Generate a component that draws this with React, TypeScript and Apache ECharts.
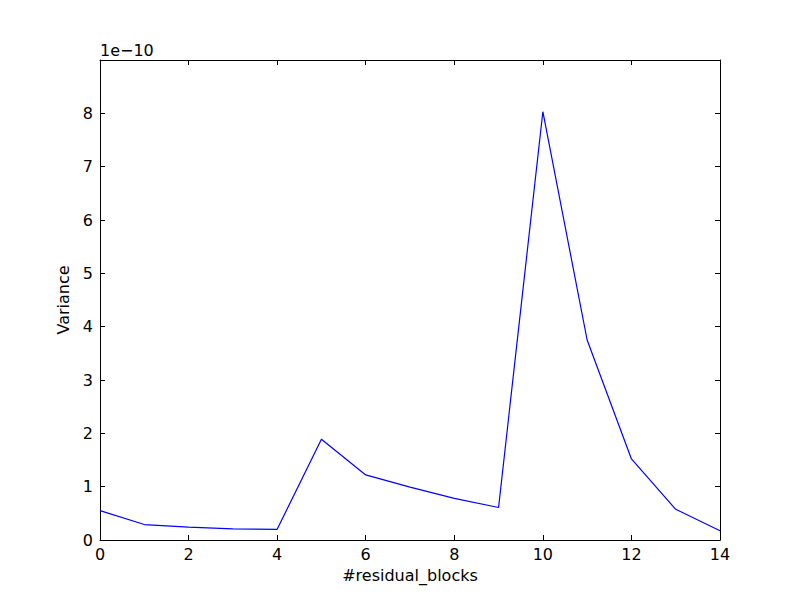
import React, { useEffect, useRef } from "react";
import * as echarts from "echarts";

const blocks = [0, 1, 2, 3, 4, 5, 6, 7, 8, 9, 10, 11, 12, 13, 14];
// variance in units of 1e-10
const variance = [0.55, 0.29, 0.24, 0.21, 0.2, 1.89, 1.22, 0.99, 0.78, 0.61, 8.03, 3.75, 1.52, 0.575, 0.175];
const xTicks = [0, 2, 4, 6, 8, 10, 12, 14];
const yTicks = [0, 1, 2, 3, 4, 5, 6, 7, 8];
const offsetText = "1e\u221210";

const FONT = "DejaVu Sans";

export default function App() {
  const ref = useRef<HTMLDivElement>(null);
  useEffect(() => {
    if (!ref.current) return;
    const chart = echarts.init(ref.current, null, { renderer: "svg" });
    const tickStyle = { show: true, inside: true, length: 5, lineStyle: { color: "#000", width: 1 } };
    const axisLine = { show: true, onZero: false, lineStyle: { color: "#000", width: 1 } };
    chart.setOption({
      animation: false,
      backgroundColor: "#fff",
      textStyle: { fontFamily: FONT },
      grid: { left: 100, right: 80, top: 60, bottom: 60, containLabel: false },
      xAxis: [
        {
          type: "value",
          min: 0,
          max: 14,
          interval: 2,
          position: "bottom",
          name: "#residual_blocks",
          nameLocation: "middle",
          nameGap: 27,
          nameTextStyle: { fontFamily: FONT, fontSize: 16, color: "#000" },
          axisLine,
          axisTick: tickStyle,
          splitLine: { show: false },
          axisLabel: {
            fontFamily: FONT,
            fontSize: 16,
            color: "#000",
            margin: 6,
            formatter: (v: number) => (xTicks.includes(v) ? String(v) : ""),
          },
        },
        {
          type: "value",
          min: 0,
          max: 14,
          interval: 2,
          position: "top",
          axisLine,
          axisTick: tickStyle,
          splitLine: { show: false },
          axisLabel: { show: false },
        },
      ],
      yAxis: [
        {
          type: "value",
          min: 0,
          max: 9,
          interval: 1,
          position: "left",
          name: "Variance",
          nameLocation: "middle",
          nameGap: 22,
          nameTextStyle: { fontFamily: FONT, fontSize: 16, color: "#000" },
          axisLine,
          axisTick: tickStyle,
          splitLine: { show: false },
          axisLabel: {
            fontFamily: FONT,
            fontSize: 16,
            color: "#000",
            margin: 7,
            formatter: (v: number) => (yTicks.includes(v) ? String(v) : ""),
          },
        },
        {
          type: "value",
          min: 0,
          max: 9,
          interval: 1,
          position: "right",
          axisLine,
          axisTick: tickStyle,
          splitLine: { show: false },
          axisLabel: { show: false },
        },
      ],
      graphic: [
        {
          type: "text",
          left: 100,
          top: 42,
          style: { text: offsetText, fontFamily: FONT, fontSize: 16, fill: "#000" },
        },
      ],
      series: [
        {
          type: "line",
          data: blocks.map((b, i) => [b, variance[i]]),
          showSymbol: false,
          symbol: "none",
          lineStyle: { color: "#0000ff", width: 1.2 },
          itemStyle: { color: "#0000ff" },
        },
      ],
    });
    return () => chart.dispose();
  }, []);
  return <div ref={ref} style={{ width: 800, height: 600, position: "absolute", left: 0, top: 0 }} />;
}
